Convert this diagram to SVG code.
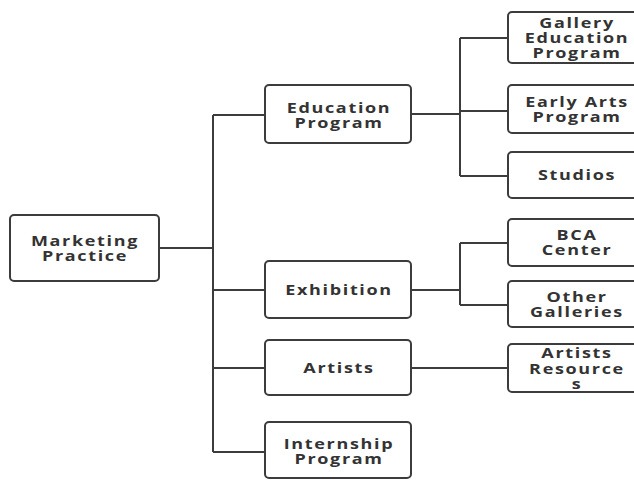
<svg xmlns="http://www.w3.org/2000/svg" width="634" height="480" viewBox="0 0 634 480">
<style>
.box{fill:#ffffff;stroke:#3c3c3c;stroke-width:2}
.t{font-family:"Open Sans","Liberation Sans",sans-serif;font-weight:700;font-size:15px;fill:#333333;text-anchor:middle;letter-spacing:1.4px}
.c{fill:none;stroke:#3c3c3c;stroke-width:2}
</style>
<rect width="634" height="480" fill="#ffffff"/>
<g id="connectors">
<path class="c" d="M159 248 H213"/>
<path class="c" d="M213 115 V452"/>
<path class="c" d="M213 115 H265 M213 290 H265 M213 368 H265 M213 452 H265"/>
<path class="c" d="M411 114 H460 M460 38 V176 M460 38 H508 M460 111 H508 M460 176 H508"/>
<path class="c" d="M411 290 H460 M460 243 V305 M460 243 H508 M460 305 H508"/>
<path class="c" d="M411 368 H508"/>
</g>
<g id="marketing-practice">
<rect class="box" x="10" y="215" width="149" height="66" rx="4"/>
<text class="t" transform="translate(85 0) scale(1.2 1)"><tspan x="0" y="246">Marketing</tspan><tspan x="0" y="261">Practice</tspan></text>
</g>
<g id="education-program">
<rect class="box" x="265" y="85" width="146" height="58" rx="4"/>
<text class="t" transform="translate(339 0) scale(1.2 1)"><tspan x="0" y="113">Education</tspan><tspan x="0" y="128">Program</tspan></text>
</g>
<g id="exhibition">
<rect class="box" x="265" y="261" width="146" height="57" rx="4"/>
<text class="t" transform="translate(339 0) scale(1.2 1)" x="0" y="295">Exhibition</text>
</g>
<g id="artists">
<rect class="box" x="265" y="340" width="146" height="55" rx="4"/>
<text class="t" transform="translate(339 0) scale(1.2 1)" x="0" y="373">Artists</text>
</g>
<g id="internship-program">
<rect class="box" x="265" y="422" width="146" height="56" rx="4"/>
<text class="t" transform="translate(339 0) scale(1.2 1)"><tspan x="0" y="449">Internship</tspan><tspan x="0" y="464">Program</tspan></text>
</g>
<g id="gallery-education-program">
<rect class="box" x="508" y="12" width="136" height="51" rx="4"/>
<text class="t" transform="translate(577 0) scale(1.2 1)"><tspan x="0" y="28">Gallery</tspan><tspan x="0" y="43">Education</tspan><tspan x="0" y="58">Program</tspan></text>
</g>
<g id="early-arts-program">
<rect class="box" x="508" y="85" width="136" height="48" rx="4"/>
<text class="t" transform="translate(577 0) scale(1.2 1)"><tspan x="0" y="107">Early Arts</tspan><tspan x="0" y="122">Program</tspan></text>
</g>
<g id="studios">
<rect class="box" x="508" y="152" width="136" height="46" rx="4"/>
<text class="t" transform="translate(577 0) scale(1.2 1)" x="0" y="180">Studios</text>
</g>
<g id="bca-center">
<rect class="box" x="508" y="219" width="136" height="47" rx="4"/>
<text class="t" transform="translate(577 0) scale(1.2 1)"><tspan x="0" y="240">BCA</tspan><tspan x="0" y="255">Center</tspan></text>
</g>
<g id="other-galleries">
<rect class="box" x="508" y="281" width="136" height="46" rx="4"/>
<text class="t" transform="translate(577 0) scale(1.2 1)"><tspan x="0" y="302">Other</tspan><tspan x="0" y="317">Galleries</tspan></text>
</g>
<g id="artists-resources">
<rect class="box" x="508" y="344" width="136" height="48" rx="4"/>
<text class="t" transform="translate(577 0) scale(1.2 1)"><tspan x="0" y="358">Artists</tspan><tspan x="0" y="374">Resource</tspan><tspan x="0" y="389">s</tspan></text>
</g>
</svg>
